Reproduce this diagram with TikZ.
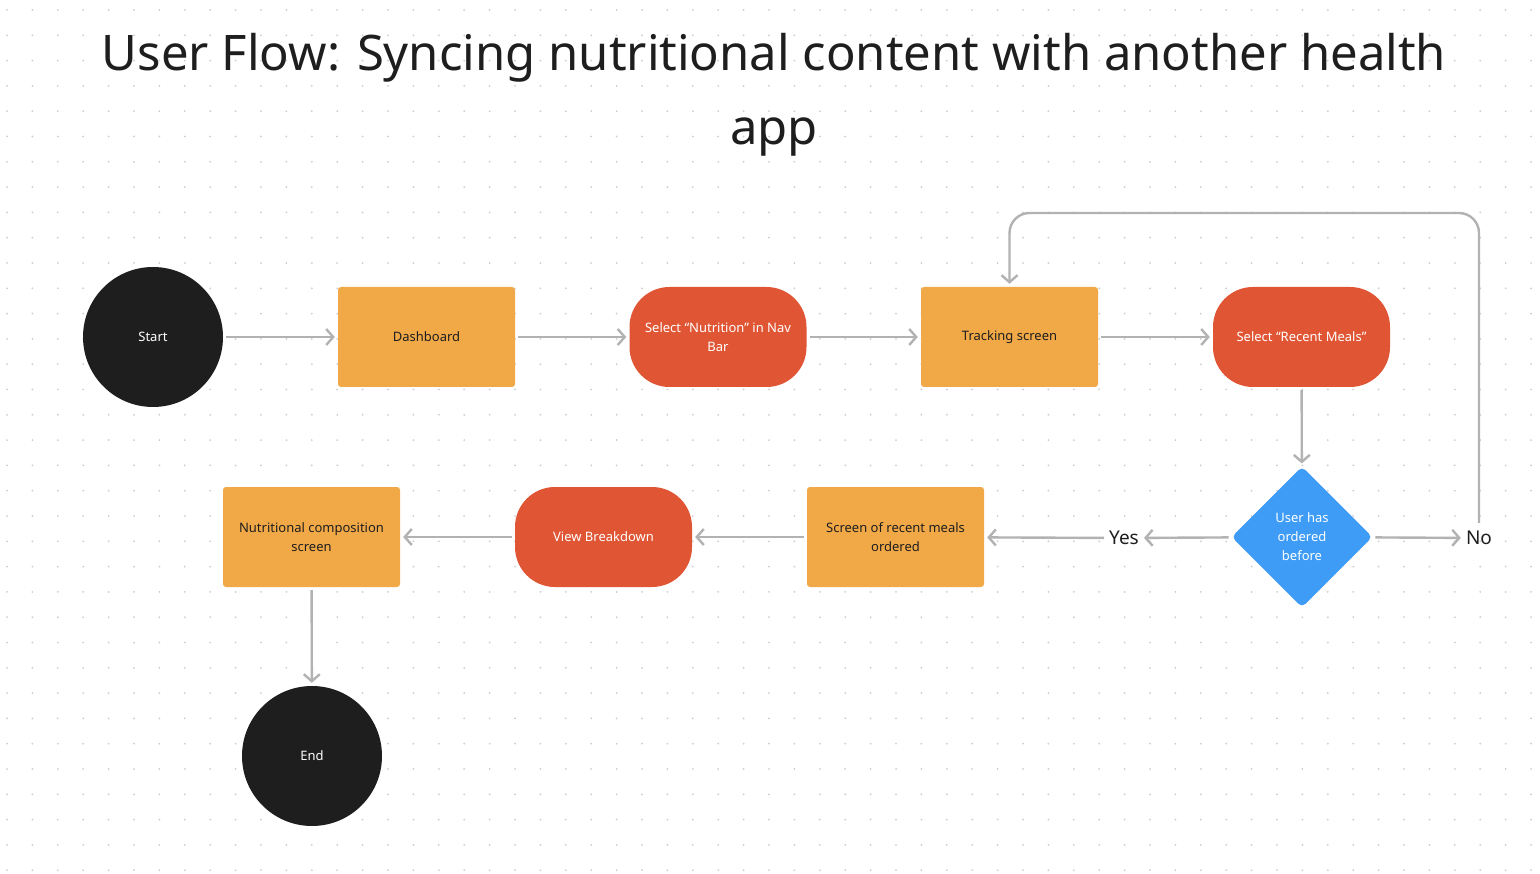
\documentclass[tikz,border=0pt]{standalone}
\usepackage{fontspec}
\setmainfont{Noto Sans}
\usetikzlibrary{arrows.meta,shapes.geometric,calc}
\definecolor{dotc}{RGB}{205,205,205}
\definecolor{arrc}{RGB}{178,178,178}
\definecolor{orng}{RGB}{241,169,72}
\definecolor{redc}{RGB}{224,86,52}
\definecolor{bluec}{RGB}{62,156,246}
\definecolor{darkc}{RGB}{30,30,30}
\tikzset{
  every node/.style={font=\fontsize{13}{19}\selectfont},
  term/.style={circle, fill=darkc, minimum size=140pt, inner sep=0pt, text=white},
  screen/.style={rectangle, rounded corners=3pt, fill=orng, minimum width=177pt, minimum height=100pt, align=center, text=darkc, inner sep=0pt},
  action/.style={rectangle, rounded corners=40pt, fill=redc, minimum width=177pt, minimum height=100pt, align=center, text=white, inner sep=0pt},
  decision/.style={diamond, rounded corners=5pt, fill=bluec, minimum width=141pt, minimum height=141pt, aspect=1, inner sep=0pt, align=center, text=white},
  lbl/.style={font=\fontsize{19}{22}\selectfont, text=darkc, inner sep=2pt},
  arr/.style={draw=arrc, line width=2.4pt, -{Straight Barb[length=7pt,width=16pt,line width=2.4pt]}, shorten >=3pt, shorten <=3pt},
}
\begin{document}
\begin{tikzpicture}[x=1pt,y=-1pt]
\useasboundingbox (0,0) rectangle (1540,874);
\fill[white] (0,0) rectangle (1540,874);
\foreach \i in {0,...,60}{
  \foreach \j in {0,...,34}{
    \fill[dotc] ({7+25.4*\i},{10+25.3*\j}) circle (1pt);
  }
}
\node[font=\fontsize{49}{74}\selectfont, text=darkc, align=center] (title) at (774,95) {User Flow: Syncing nutritional content with another health\\app};

\node[term] (start) at (153,337) {Start};
\node[screen] (dash) at (426.5,337) {Dashboard};
\node[action] (nutr) at (718,337) {Select “Nutrition” in Nav\\Bar};
\node[screen] (trk) at (1009.5,337) {Tracking screen};
\node[action] (rec) at (1301.5,337) {Select “Recent Meals”};
\node[decision] (dec) at (1302,537) {User has\\ordered\\before};
\node[lbl] (yes) at (1124,538) {Yes};
\node[lbl] (no) at (1479,538) {No};
\node[screen] (scr) at (895.5,537) {Screen of recent meals\\ordered};
\node[action] (view) at (603.5,537) {View Breakdown};
\node[screen] (comp) at (311.5,537) {Nutritional composition\\screen};
\node[term] (end) at (312,756) {End};
\coordinate (top) at (1479,213);

\draw[arr] (start) -- (dash);
\draw[arr] (dash) -- (nutr);
\draw[arr] (nutr) -- (trk);
\draw[arr] (trk) -- (rec);
\draw[arr] (rec) -- (dec);
\draw[arr] (dec) -- (yes);
\draw[arr] (dec) -- (no);
\draw[arr] (yes) -- (scr);
\draw[arr] (scr) -- (view);
\draw[arr] (view) -- (comp);
\draw[arr] (comp) -- (end);
\draw[arr, rounded corners=20pt, shorten <=6pt] (no.north) -- (top) -| (trk.north);
\end{tikzpicture}
\end{document}
